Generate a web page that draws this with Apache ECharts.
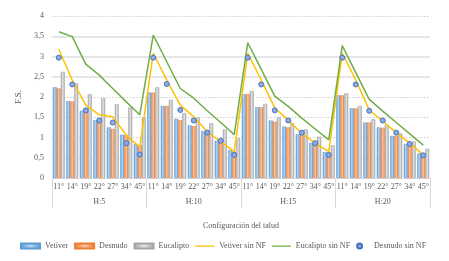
<!DOCTYPE html>
<html>
<head>
<meta charset="utf-8">
<script src="https://cdn.jsdelivr.net/npm/echarts@6/dist/echarts.min.js"></script>
<style>html,body{margin:0;padding:0;background:#fff;}#c{width:449px;height:261px;}</style>
</head>
<body>
<div id="c"></div>
<script>
const angles = ['11°','14°','19°','22°','27°','34°','45°'];
const groups = ['H:5','H:10','H:15','H:20'];
const yTicks = [0, 0.5, 1, 1.5, 2, 2.5, 3, 3.5, 4];
const solidGrid = [2.5, 3, 3.5];

const vetiver = [2.24,1.90,1.66,1.43,1.25,1.07,0.84, 2.11,1.78,1.46,1.30,1.16,0.92,0.69, 2.07,1.75,1.42,1.27,1.08,0.87,0.64, 2.04,1.72,1.37,1.25,1.04,0.84,0.61];
const desnudo = [2.21,1.89,1.63,1.41,1.21,1.06,0.81, 2.11,1.78,1.43,1.28,1.10,0.90,0.65, 2.07,1.75,1.39,1.25,1.06,0.86,0.61, 2.04,1.72,1.37,1.24,1.04,0.81,0.53];
const eucalipto = [2.62,2.34,2.07,1.97,1.82,1.74,1.49, 2.24,1.93,1.60,1.49,1.35,1.20,0.98, 2.15,1.83,1.50,1.35,1.20,1.02,0.81, 2.09,1.78,1.45,1.31,1.10,0.90,0.72];
const vetiverSinNF = [3.18,2.42,1.80,1.56,1.51,1.06,0.76, 3.08,2.42,1.80,1.51,1.14,0.90,0.65, 3.08,2.42,1.73,1.43,1.10,0.86,0.65, 3.08,2.42,1.68,1.40,1.12,0.86,0.57];
const eucaliptoSinNF = [3.61,3.49,2.81,2.54,2.21,1.88,1.56, 3.53,2.87,2.21,1.97,1.66,1.37,1.07, 3.34,2.68,2.02,1.77,1.48,1.21,0.94, 3.27,2.60,1.94,1.65,1.37,1.09,0.81];
const desnudoSinNF = [2.97,2.31,1.67,1.42,1.37,0.86,0.58, 2.97,2.32,1.68,1.42,1.12,0.92,0.57, 2.97,2.31,1.67,1.42,1.12,0.86,0.57, 2.97,2.31,1.66,1.42,1.12,0.84,0.56];

const categories = [];
groups.forEach(() => angles.forEach(a => categories.push(a)));

const FONT = 'Liberation Serif';
const TXT = '#595959';
const LINE_ICON = 'path://M0,0L0.01,0L0.01,0.01Z M0,1.9L19,1.9L19,3.3L0,3.3Z M0,5L0.01,5L0.01,4.99Z';

function grad(edge, mid) {
  return new echarts.graphic.LinearGradient(0, 0, 1, 0, [
    {offset: 0, color: edge}, {offset: 0.5, color: mid}, {offset: 1, color: edge}
  ]);
}

const chart = echarts.init(document.getElementById('c'), null, {renderer: 'canvas'});
chart.setOption({
  animation: false,
  backgroundColor: '#fff',
  textStyle: {fontFamily: FONT, color: TXT},
  grid: {left: 52, right: 19, top: 16, bottom: 83},
  legend: {
    top: 242, left: 20, width: 440, padding: 0, itemGap: 6, itemWidth: 19, itemHeight: 5,
    textStyle: {fontFamily: FONT, fontSize: 8, color: TXT},
    data: [
      {name: 'Vetiver', icon: 'rect'},
      {name: 'Desnudo', icon: 'rect'},
      {name: 'Eucalipto', icon: 'rect'},
      {name: 'Vetiver sin NF', icon: LINE_ICON},
      {name: 'Eucalipto sin NF', icon: LINE_ICON},
      {name: 'Desnudo sin NF', icon: 'circle'}
    ]
  },
  xAxis: [{
    type: 'category', data: categories, position: 'bottom',
    axisLine: {show: true, lineStyle: {color: '#d9d9d9'}},
    axisTick: {show: false},
    axisLabel: {interval: 0, fontSize: 8, fontFamily: FONT, color: TXT, margin: 5}
  }, {
    type: 'category', data: groups, position: 'bottom',
    axisLine: {show: false},
    axisTick: {show: true, length: 30, interval: 0, lineStyle: {color: '#d9d9d9'}},
    axisLabel: {interval: 0, fontSize: 8, fontFamily: FONT, color: TXT, margin: 20},
    name: 'Configuración del talud', nameLocation: 'middle', nameGap: 44,
    nameTextStyle: {fontFamily: FONT, fontSize: 8, color: TXT}
  }],
  yAxis: {
    type: 'value', min: 0, max: 4, interval: 0.5,
    axisLine: {show: false}, axisTick: {show: false},
    axisLabel: {fontSize: 8, fontFamily: FONT, color: TXT, margin: 8,
      formatter: v => String(v).replace('.', ',')},
    splitLine: {show: true, lineStyle: {color: '#cfcfcf', type: [1.5, 1.5], width: 1}},
    name: 'F.S.', nameLocation: 'middle', nameGap: 22,
    nameTextStyle: {fontFamily: FONT, fontSize: 9, color: TXT}
  },
  series: [
    {name: 'Vetiver', type: 'bar', data: vetiver, barWidth: 4, barGap: '0%',
      itemStyle: {color: grad('#5b9bd5', '#b9d4ef'), borderColor: '#5b9bd5', borderWidth: 0.5},
      markLine: {silent: true, symbol: 'none', z: 1, label: {show: false},
        lineStyle: {color: '#e6e6e6', width: 2, type: 'solid'},
        data: solidGrid.map(v => ({yAxis: v}))}},
    {name: 'Desnudo', type: 'bar', data: desnudo, barWidth: 4, barGap: '0%',
      itemStyle: {color: grad('#ed7d31', '#f8c6a3'), borderColor: '#ed7d31', borderWidth: 0.5}},
    {name: 'Eucalipto', type: 'bar', data: eucalipto, barWidth: 4, barGap: '0%',
      itemStyle: {color: grad('#a5a5a5', '#e2e2e2'), borderColor: '#a5a5a5', borderWidth: 0.5}},
    {name: 'Vetiver sin NF', type: 'line', data: vetiverSinNF, symbol: 'none', z: 3,
      lineStyle: {color: '#ffc000', width: 1.5}, itemStyle: {color: '#ffc000'}},
    {name: 'Eucalipto sin NF', type: 'line', data: eucaliptoSinNF, symbol: 'none', z: 3,
      lineStyle: {color: '#70ad47', width: 1.5}, itemStyle: {color: '#70ad47'}},
    {name: 'Desnudo sin NF', type: 'scatter', data: desnudoSinNF, symbol: 'circle', symbolSize: 5, z: 4,
      itemStyle: {color: '#8faadc', borderColor: '#4472c4', borderWidth: 1, opacity: 1}}
  ]
});
</script>
</body>
</html>
